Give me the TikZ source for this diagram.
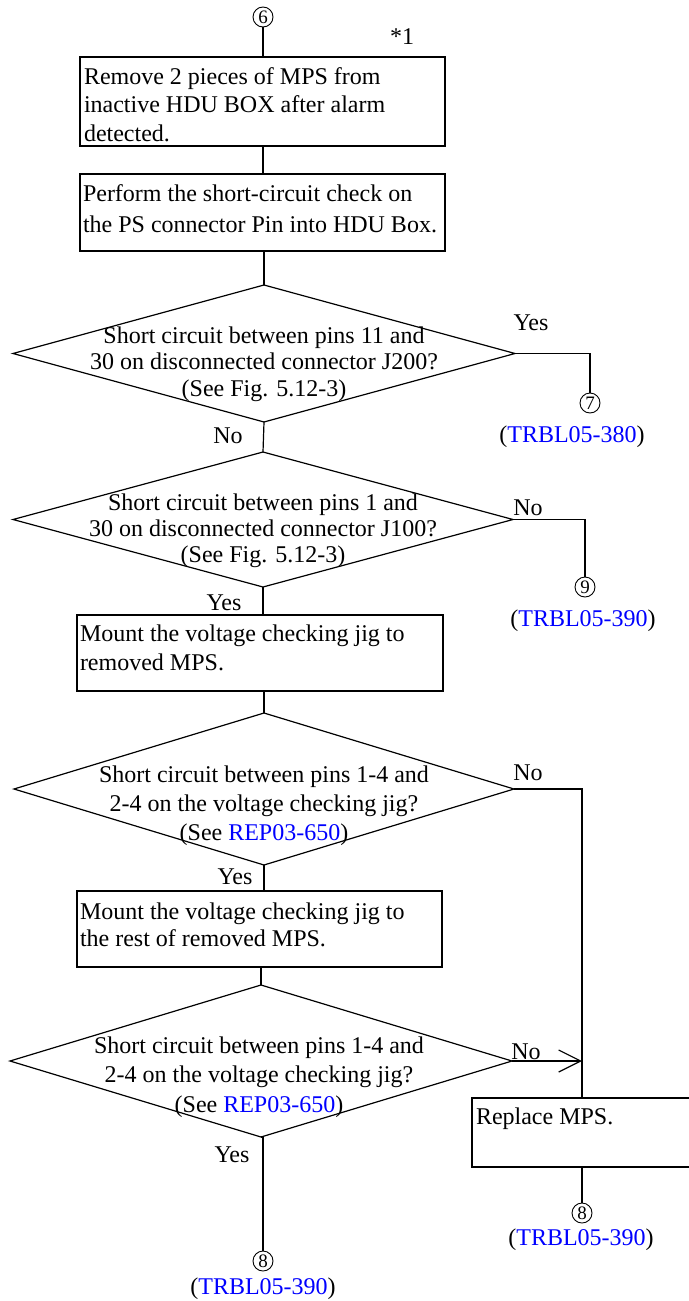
\documentclass[tikz,border=0pt]{standalone}
\usepackage{fontspec}
\setmainfont{Liberation Serif}
\usetikzlibrary{shapes.geometric,arrows.meta}
\begin{document}
\begin{tikzpicture}[x=1pt,y=-1pt,
  line width=1.2pt,
  every node/.style={inner sep=0pt, outer sep=0pt},
  fnt/.style={font=\fontsize{24}{#1}\selectfont},
  fnt/.default=28.5,
  boxnode/.style={draw, rectangle, anchor=north west, line width=1.2pt},
  dec/.style={draw, diamond, line width=1.2pt},
  dtxt/.style={align=center},
  btxt/.style={align=left, anchor=west},
  circ/.style={draw, circle, line width=0.9pt, minimum size=20pt, font=\fontsize{19}{19}\selectfont},
  lab/.style={fnt}
]
\useasboundingbox (0,0) rectangle (688,1301);

% start connector
\node[circ] (c6) at (263,17) {6};
\node[lab] (star) at (402,37) {*1};

% boxes
\node[boxnode, minimum width=365pt, minimum height=89pt] (b1) at (80,57) {};
\node[btxt, fnt=28.5] (t1) at (84,104.5) {Remove 2 pieces of MPS from\\inactive HDU BOX after alarm\\detected.};

\node[boxnode, minimum width=365pt, minimum height=77pt] (b2) at (80,174) {};
\node[btxt, fnt=31] (t2) at (83,209) {Perform the short-circuit check on\\the PS connector Pin into HDU Box.};

% decisions and actions
\node[dec, minimum width=502pt, minimum height=137pt] (d1) at (264,353.5) {};
\node[dtxt, fnt=26.5] (q1) at (264,364) {Short circuit between pins 11 and\\30 on disconnected connector J200?\\(See Fig. 5.12-3)};

\node[dec, minimum width=500pt, minimum height=135pt] (d2) at (263,519.5) {};
\node[dtxt, fnt=26] (q2) at (263,530.5) {Short circuit between pins 1 and\\30 on disconnected connector J100?\\(See Fig. 5.12-3)};

\node[boxnode, minimum width=366pt, minimum height=76pt] (b3) at (77,615) {};
\node[btxt, fnt=29] (t3) at (80,648) {Mount the voltage checking jig to\\removed MPS.};

\node[dec, minimum width=500pt, minimum height=152pt] (d3) at (264,789) {};
\node[dtxt, fnt=29] (q3) at (264,805.5) {Short circuit between pins 1-4 and\\2-4 on the voltage checking jig?\\(See \textcolor{blue}{REP03-650})};

\node[boxnode, minimum width=365pt, minimum height=76pt] (b4) at (77,891) {};
\node[btxt, fnt=27] (t4) at (80,925) {Mount the voltage checking jig to\\the rest of removed MPS.};

\node[dec, minimum width=502pt, minimum height=152pt] (d4) at (261,1061) {};
\node[dtxt, fnt=29.5] (q4) at (259,1077) {Short circuit between pins 1-4 and\\2-4 on the voltage checking jig?\\(See \textcolor{blue}{REP03-650})};

\node[boxnode, minimum width=220pt, minimum height=69pt] (b5) at (472,1098) {};
\node[btxt, fnt] (t5) at (476,1119) {Replace MPS.};

% off-page connectors
\node[circ] (c7) at (590,403) {7};
\node[lab] (r7) at (572,437) {(\textcolor{blue}{TRBL05-380})};
\node[circ] (c9) at (585,587) {9};
\node[lab] (r9) at (583,621) {(\textcolor{blue}{TRBL05-390})};
\node[circ] (c8a) at (582,1213) {8};
\node[lab] (r8a) at (581,1240) {(\textcolor{blue}{TRBL05-390})};
\node[circ] (c8b) at (263,1261) {8};
\node[lab] (r8b) at (263,1289) {(\textcolor{blue}{TRBL05-390})};

% branch labels
\node[lab] (y1) at (531,323) {Yes};
\node[lab] (n1) at (228,436) {No};
\node[lab] (n2) at (528,508) {No};
\node[lab] (y2) at (224,603) {Yes};
\node[lab] (n3) at (528,773) {No};
\node[lab] (y3) at (235,877) {Yes};
\node[lab] (n4) at (526,1052) {No};
\node[lab] (y4) at (232,1155) {Yes};

% connectors
\coordinate (j3) at (582,789);
\draw (c6.south) -- (c6.south |- b1.north);
\draw (c6.south |- b1.south) -- (c6.south |- b2.north);
\draw (d1.north |- b2.south) -- (d1.north);
\draw (d1.south) -- (d2.north);
\draw (d1.east) -| (c7.north);
\draw (d2.east) -| (c9.north);
\draw (d2.south) -- (d2.south |- b3.north);
\draw (d3.north |- b3.south) -- (d3.north);
\draw (d3.south) -- (d3.south |- b4.north);
\draw (d4.north |- b4.south) -- (d4.north);
\draw (d3.east) -- (j3) -- (j3 |- b5.north);
\draw[-{Straight Barb[length=22pt,width=22pt]}] (d4.east) -- (d4.east -| j3);
\draw (j3 |- b5.south) -- (c8a.north);
\draw (d4.south) -- (d4.south -| c8b) -- (c8b.north);
\end{tikzpicture}
\end{document}
